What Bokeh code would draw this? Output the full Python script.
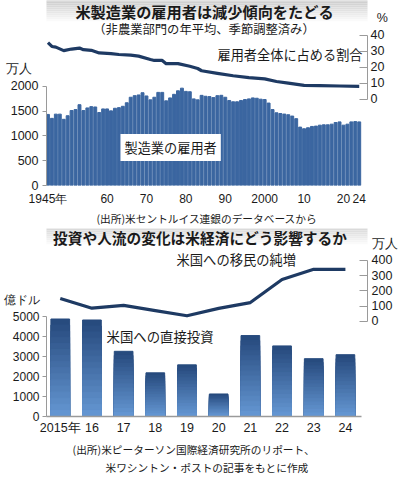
from bokeh.plotting import figure
from bokeh.models import Range1d, LinearAxis, FixedTicker, Label, BoxAnnotation
from bokeh.layouts import column
from bokeh.embed import file_html
from bokeh.resources import INLINE

JP = "Noto Sans CJK JP"
NUM = "Liberation Sans"

# ---------------- Panel 1 data ----------------
mfg_years = list(range(1945, 2025))
mfg_employment = [1431, 1352, 1437, 1437, 1333, 1405, 1509, 1529, 1627, 1509,
                  1562, 1588, 1581, 1470, 1542, 1542, 1503, 1555, 1568, 1595,
                  1666, 1777, 1809, 1823, 1868, 1803, 1725, 1777, 1875, 1875,
                  1705, 1764, 1836, 1907, 1960, 1895, 1888, 1744, 1725, 1815,
                  1797, 1790, 1770, 1809, 1816, 1777, 1712, 1686, 1686, 1712,
                  1731, 1744, 1764, 1757, 1738, 1731, 1660, 1529, 1464, 1450,
                  1438, 1425, 1398, 1346, 1176, 1143, 1163, 1189, 1196, 1215,
                  1222, 1222, 1235, 1268, 1281, 1215, 1235, 1281, 1287, 1281]
share_years = [1945, 1946, 1947, 1949, 1951, 1953, 1954, 1956, 1958, 1961,
               1963, 1966, 1968, 1971, 1972, 1974, 1975, 1978, 1981, 1983,
               1984, 1988, 1992, 1996, 2000, 2003, 2006, 2010, 2014, 2019, 2024]
share_pct = [35.3, 32.9, 32.5, 30.3, 31.3, 31.9, 30.9, 30.5, 28.9, 28.5,
             27.9, 27.5, 26.9, 24.8, 24.2, 24.2, 22.2, 22.2, 20.6, 19.2,
             17.8, 16.2, 14.7, 13.5, 12.7, 11.1, 10.1, 8.7, 8.5, 8.3, 8.1]
p1_xticks = [1945, 1960, 1970, 1980, 1990, 2000, 2010, 2020, 2024]
p1_xlabels = ["1945年", "60", "70", "80", "90", "2000", "10", "20", "24"]
p1_left_ticks = [0, 500, 1000, 1500, 2000]
p1_left_unit = "万人"
p1_right_ticks = [0, 10, 20, 30, 40]
p1_right_unit = "%"

# ---------------- Panel 2 data ----------------
fdi_years = list(range(2015, 2025))
fdi_values = [4890, 4840, 3270, 2190, 2590, 1130, 4060, 3540, 2900, 3100]
immig_values = [150, 86, 105, 70, 36, 85, 123, 275, 342, 342]
p2_xlabels = ["2015年", "16", "17", "18", "19", "20", "21", "22", "23", "24"]
p2_left_ticks = [0, 1000, 2000, 3000, 4000, 5000]
p2_left_unit = "億ドル"
p2_right_ticks = [0, 100, 200, 300, 400]
p2_right_unit = "万人"

AXIS_GRAY = "#9a9a9a"
TXT = "#1a1a1a"


def style_common(p):
    p.grid.visible = False
    p.outline_line_color = None
    p.background_fill_color = "white"
    p.border_fill_color = "white"


def header(p, ox, oy, y0, y1, c0):
    n = int((y1 - y0) / 2)
    for i in range(n):
        t = i / max(n - 1, 1)
        g = int(c0 + (255 - c0) * t)
        col = "#%02x%02x%02x" % (g, g, g)
        top = y0 + 2 * i
        p.add_layout(BoxAnnotation(left=-ox, right=400 - ox, top=oy - top, bottom=oy - top - 2,
                                   left_units="screen", right_units="screen",
                                   top_units="screen", bottom_units="screen",
                                   fill_color=col, fill_alpha=1.0, line_color=None,
                                   level="underlay"))


def text(p, ox, oy, rx, ry, s, size, align="left", bold=False, bg=None):
    kw = {}
    if bg is not None:
        kw = dict(background_fill_color=bg, background_fill_alpha=1.0, padding=4)
    p.add_layout(Label(x=rx - ox, y=oy - ry, x_units="screen", y_units="screen", text=s,
                       text_font=JP, text_font_size=size, text_color=TXT,
                       text_font_style="bold" if bold else "normal",
                       text_align=align, text_baseline="middle", **kw))


def style_axis(ax, size, standoff, tick_in=0, tick_out=0, line=True):
    ax.axis_line_color = AXIS_GRAY if line else None
    ax.major_tick_line_color = AXIS_GRAY if (tick_in or tick_out) else None
    ax.minor_tick_line_color = None
    ax.major_tick_in = tick_in
    ax.major_tick_out = tick_out
    ax.major_label_standoff = standoff
    ax.major_label_text_font = NUM
    ax.major_label_text_font_size = size
    ax.major_label_text_color = TXT


# ================= Panel 1 =================
# frame: x 41..370, y 0..190 (page pixels)
p1 = figure(width=400, height=228, output_backend="svg", toolbar_location=None,
            x_range=Range1d(1944.63, 2026.1), y_range=Range1d(0, 3725),
            min_border_left=41, min_border_right=30, min_border_top=0, min_border_bottom=38)
style_common(p1)
p1.extra_y_ranges = {"pct": Range1d(-53.6, 61.5)}

O1X, O1Y = 41, 190
header(p1, O1X, O1Y, 0, 28, 0xc2)

p1.vbar(x=mfg_years, top=mfg_employment, width=0.74, color="#3b66a0")
p1.line(x=share_years, y=share_pct, y_range_name="pct", line_width=3.2, color="#1e3a63",
        line_join="round")

xa = p1.xaxis[0]
xa.ticker = FixedTicker(ticks=p1_xticks)
xa.major_label_overrides = {t: l for t, l in zip(p1_xticks, p1_xlabels)}
style_axis(xa, "12px", 6, line=False)
xa.axis_label = "(出所)米セントルイス連銀のデータベースから"
xa.axis_label_text_font = JP
xa.axis_label_text_font_size = "10.7px"
xa.axis_label_text_font_style = "normal"
xa.axis_label_text_color = TXT
xa.axis_label_standoff = 2

ya = p1.yaxis[0]
ya.ticker = FixedTicker(ticks=p1_left_ticks)
ya.bounds = (0, 2000)
ya.major_label_overrides = {2000: p1_left_unit + "\u2002\n2000\n "}
style_axis(ya, "12.5px", 4, tick_out=4)

ra = LinearAxis(y_range_name="pct", ticker=FixedTicker(ticks=p1_right_ticks), bounds=(0, 40))
ra.major_label_overrides = {40: "\u2002" + p1_right_unit + "\n40\n "}
style_axis(ra, "12.5px", 3, tick_in=8)
p1.add_layout(ra, "right")

text(p1, O1X, O1Y, 199, 15.5, "米製造業の雇用者は減少傾向をたどる", "15.2px", "center", bold=True)
text(p1, O1X, O1Y, 198.5, 33, "（非農業部門の年平均、季節調整済み）", "12.3px", "center")
text(p1, O1X, O1Y, 212, 59, "雇用者全体に占める割合", "13.2px")
text(p1, O1X, O1Y, 115, 152, "製造業の雇用者", "13.2px", bg="white")

# ================= Panel 2 =================
# frame: x 43..370, y 228..426 (page pixels)
p2 = figure(width=400, height=249, output_backend="svg", toolbar_location=None,
            x_range=Range1d(2014.566, 2024.697), y_range=Range1d(0, 9429),
            min_border_left=43, min_border_right=30, min_border_top=0, min_border_bottom=51)
style_common(p2)
p2.extra_y_ranges = {"imm": Range1d(-627, 610.6)}

O2X, O2Y = 43, 426
header(p2, O2X, O2Y, 228, 256, 0xc4)

dark = (0x27, 0x4b, 0x7e)
light = (0x63, 0x95, 0xd1)
N = 16
for k in range(N):
    t = k / (N - 1)
    col = "#%02x%02x%02x" % tuple(int(dark[i] + (light[i] - dark[i]) * t) for i in range(3))
    frac = (N - k) / N
    p2.vbar(x=fdi_years, top=[v * frac for v in fdi_values], width=0.59, color=col)

p2.line(x=fdi_years, y=immig_values, y_range_name="imm", line_width=3.2, color="#1e3a63",
        line_join="round")

xb = p2.xaxis[0]
xb.ticker = FixedTicker(ticks=fdi_years)
xb.major_label_overrides = {t: l for t, l in zip(fdi_years, p2_xlabels)}
xb.bounds = (2014.566, 2024.51)
style_axis(xb, "12.5px", 4)
xb.axis_line_width = 1.5
xb.axis_label = ("(出所)米ピーターソン国際経済研究所のリポート、\u3000\u3000\u3000\n"
                 "米ワシントン・ポストの記事をもとに作成")
xb.axis_label_text_font = JP
xb.axis_label_text_font_size = "10.7px"
xb.axis_label_text_font_style = "normal"
xb.axis_label_text_color = TXT
xb.axis_label_standoff = 4

yb = p2.yaxis[0]
yb.ticker = FixedTicker(ticks=p2_left_ticks)
yb.bounds = (0, 5000)
yb.major_label_overrides = {5000: p2_left_unit + "\n5000\n "}
style_axis(yb, "12px", 3, tick_out=4)

rb = LinearAxis(y_range_name="imm", ticker=FixedTicker(ticks=p2_right_ticks), bounds=(0, 400))
rb.major_label_overrides = {400: p2_right_unit + "\n400\n "}
style_axis(rb, "12.5px", 4, tick_in=8)
p2.add_layout(rb, "right")

text(p2, O2X, O2Y, 196.5, 247, "投資や人流の変化は米経済にどう影響するか", "14.7px", "center", bold=True)
text(p2, O2X, O2Y, 173, 269, "米国への移民の純増", "13.3px")
text(p2, O2X, O2Y, 103, 345, "米国への直接投資", "13.4px")

layout = column(p1, p2)
open("out.html", "w").write(file_html(layout, INLINE))
